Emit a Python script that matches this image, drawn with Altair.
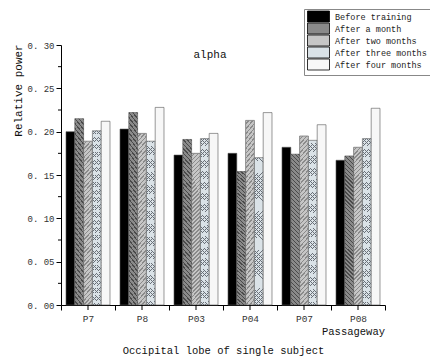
import altair as alt
import pandas as pd

categories = ["P7", "P8", "P03", "P04", "P07", "P08"]
series = ["Before training", "After a month", "After two months",
          "After three months", "After four months"]
before = [0.200, 0.203, 0.173, 0.175, 0.182, 0.167]
month1 = [0.215, 0.222, 0.191, 0.154, 0.174, 0.172]
month2 = [0.189, 0.198, 0.175, 0.213, 0.195, 0.182]
month3 = [0.201, 0.189, 0.192, 0.170, 0.190, 0.192]
month4 = [0.212, 0.228, 0.198, 0.222, 0.208, 0.227]
major_ticks = [0.00, 0.05, 0.10, 0.15, 0.20, 0.25, 0.30]
minor_ticks = [0.025, 0.075, 0.125, 0.175, 0.225, 0.275]

rows = []
for s, vals in zip(series, [before, month1, month2, month3, month4]):
    for c, v in zip(categories, vals):
        rows.append({"channel": c, "group": s, "power": v})
df = pd.DataFrame(rows)

FONT = "Liberation Mono"
colors = ["#000000", "#8a8a8a", "#c6c6c6", "#dae2e7", "#f7f7f7"]


def hatch(color, direction, n=40, frac=0.35):
    clear = "rgba(255,255,255,0)"
    stops = []
    for i in range(n):
        a = i / n
        b = (i + 1 - frac) / n
        c = (i + 1) / n
        stops += [alt.GradientStop(offset=a, color=clear),
                  alt.GradientStop(offset=b, color=clear),
                  alt.GradientStop(offset=b, color=color),
                  alt.GradientStop(offset=c, color=color)]
    if direction > 0:
        return alt.LinearGradient(gradient="linear", stops=stops,
                                  x1=0, y1=1, x2=0.062, y2=-0.055)
    return alt.LinearGradient(gradient="linear", stops=stops,
                              x1=0, y1=0, x2=0.062, y2=1.055)


x_axis = alt.Axis(title="Occipital lobe of single subject", labelAngle=0,
                  tickBand="extent", tickSize=5, tickColor="#000",
                  domainColor="#000", labelFont=FONT, labelFontSize=9.5,
                  labelColor="#333", labelPadding=3,
                  titleFont=FONT, titleFontSize=10.5, titleFontWeight="normal",
                  titleColor="#111", titleY=45, titleBaseline="middle")
y_axis = alt.Axis(values=major_ticks, title="Relative power", grid=False,
                  labelExpr="replace(format(datum.value, '.2f'), '.', '. ')",
                  tickSize=5, tickColor="#000", domainColor="#000",
                  labelFont=FONT, labelFontSize=9, labelColor="#333",
                  labelPadding=2,
                  titleFont=FONT, titleFontSize=11, titleFontWeight="normal",
                  titleColor="#111", titleX=-43, titleY=45,
                  titleAlign="center", titleBaseline="middle", titleAngle=-90)
x_enc = alt.X("channel:N", sort=categories,
              scale=alt.Scale(paddingInner=0, paddingOuter=0), axis=x_axis)
xo_enc = alt.XOffset("group:N", sort=series,
                     scale=alt.Scale(domain=series, paddingOuter=0.57, paddingInner=0))
y_scale = alt.Scale(domain=[0, 0.30])
y_enc = alt.Y("power:Q", scale=y_scale, axis=y_axis)

bars = alt.Chart(df).mark_bar(stroke="#555555", strokeWidth=0.6).encode(
    x=x_enc, xOffset=xo_enc, y=y_enc,
    color=alt.Color("group:N", sort=series,
                    scale=alt.Scale(domain=series, range=colors),
                    legend=alt.Legend(title=None, orient="none", legendX=243, legendY=-36,
                                      fillColor="white", strokeColor="#888888",
                                      padding=3, labelFont=FONT, labelFontSize=8.5,
                                      labelColor="#222", labelOffset=19,
                                      symbolType="M-1,-1.375L4.5,-1.375L4.5,1.375L-1,1.375Z",
                                      symbolSize=64, symbolStrokeColor="#000",
                                      symbolStrokeWidth=0.8, symbolOpacity=1,
                                      rowPadding=-3)),
)

overlays = []
for name, col, d, fr in [("After a month", "#4a4a4a", 1, 0.35),
                         ("After two months", "#8a8a8a", -1, 0.35),
                         ("After three months", "#6a7078", 1, 0.16),
                         ("After three months", "#6a7078", -1, 0.16)]:
    overlays.append(
        alt.Chart(df).transform_filter(alt.datum.group == name)
        .mark_bar(fill=hatch(col, d, frac=fr), strokeWidth=0)
        .encode(x=x_enc, xOffset=xo_enc, y=y_enc)
    )

minor = alt.Chart(pd.DataFrame({"power": minor_ticks})).mark_rule(color="#000").encode(
    y=alt.Y("power:Q", scale=y_scale, axis=y_axis), x=alt.value(-3), x2=alt.value(0))

center_ticks = alt.Chart(pd.DataFrame({"channel": categories})).mark_rule(color="#000").encode(
    x=x_enc, y=alt.value(260), y2=alt.value(265))

passage = alt.Chart(pd.DataFrame({"t": ["Passageway"]})).mark_text(
    align="right", baseline="middle", font=FONT, fontSize=10.5, color="#111").encode(
    text="t:N", x=alt.value(324), y=alt.value(287))

title_txt = alt.Chart(pd.DataFrame({"t": ["alpha"]})).mark_text(
    align="center", baseline="middle", font=FONT, fontSize=11, color="#111").encode(
    text="t:N", x=alt.value(149), y=alt.value(10))

chart = alt.layer(bars, *overlays, minor, center_ticks, passage, title_txt).properties(
    width=324, height=260,
    autosize=alt.AutoSizeParams(type="none"),
    padding={"left": 61, "top": 45, "right": 45, "bottom": 51},
    background="white",
).configure_view(stroke=None)

chart.save("out.html", embed_options={"renderer": "svg", "actions": False})
